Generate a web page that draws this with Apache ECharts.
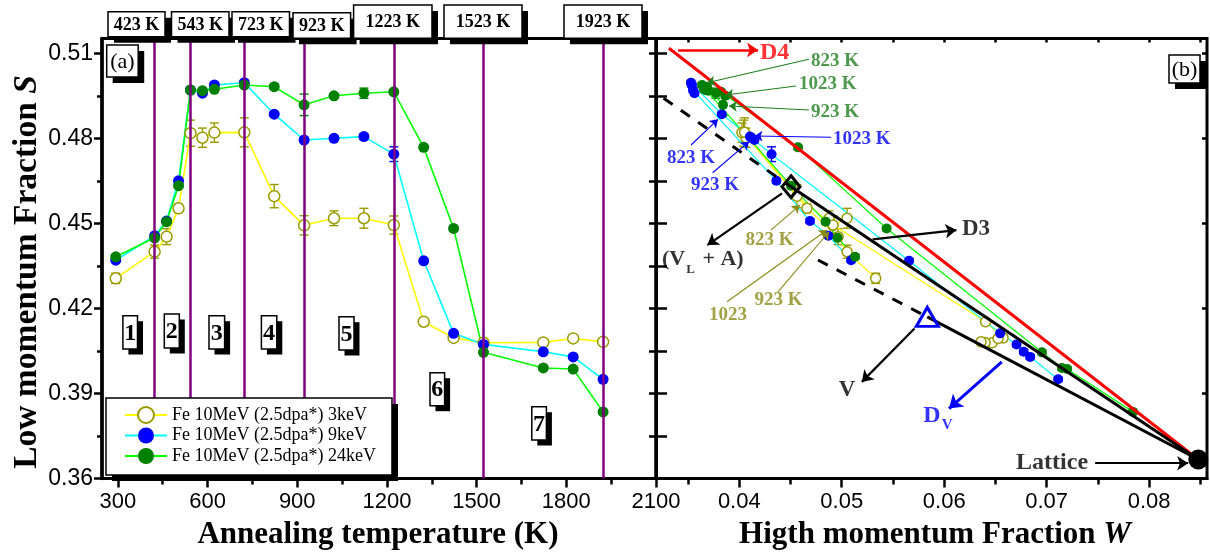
<!DOCTYPE html>
<html><head><meta charset="utf-8">
<script src="https://cdn.jsdelivr.net/npm/echarts@6/dist/echarts.min.js"></script>
<style>html,body{margin:0;padding:0;background:#fff}#c{width:1210px;height:554px}</style>
</head><body><div id="c"></div>
<script>
// ---------------- DATA ----------------
const temps = [293, 423, 463, 503, 543, 583, 623, 723, 823, 923, 1023, 1123, 1223, 1323, 1423, 1523, 1723, 1823, 1923];
const S3keV  = [0.4306, 0.4400, 0.4453, 0.4553, 0.4818, 0.4802, 0.4820, 0.4821, 0.4596, 0.4493, 0.4518, 0.4518, 0.4494, 0.4153, 0.4096, 0.4079, 0.4080, 0.4094, 0.4082];
const S9keV  = [0.4370, 0.4456, 0.4508, 0.4650, 0.4970, 0.4959, 0.4988, 0.4996, 0.4885, 0.4794, 0.4800, 0.4806, 0.4744, 0.4368, 0.4112, 0.4073, 0.4047, 0.4029, 0.3950];
const S24keV = [0.4382, 0.4449, 0.4506, 0.4633, 0.4970, 0.4968, 0.4973, 0.4988, 0.4982, 0.4918, 0.4950, 0.4959, 0.4964, 0.4768, 0.4482, 0.4045, 0.3990, 0.3986, 0.3835];
const E3keV  = [0.0018, 0.0023, 0.0028, 0.0015, 0.0046, 0.0034, 0.0034, 0.0051, 0.0041, 0.0034, 0.0026, 0.0035, 0.0032, 0.0010, 0.0010, 0.0010, 0.0010, 0.0010, 0.0012];
const E9keV  = [0.0008, 0.0008, 0.0008, 0.0008, 0.0008, 0.0008, 0.0008, 0.0008, 0.0008, 0.0008, 0.0008, 0.0010, 0.0026, 0.0008, 0.0008, 0.0008, 0.0008, 0.0008, 0.0008];
const E24keV = [0.0008, 0.0008, 0.0008, 0.0008, 0.0008, 0.0008, 0.0008, 0.0008, 0.0008, 0.0038, 0.0008, 0.0018, 0.0008, 0.0008, 0.0008, 0.0008, 0.0008, 0.0008, 0.0008];
const W3keV  = [0.05331, 0.05052, 0.04964, 0.04661, 0.04042, 0.04065, 0.04026, 0.04051, 0.04563, 0.04912, 0.04876, 0.05052, 0.04915, 0.06404, 0.06575, 0.06468, 0.06399, 0.06526, 0.06360];
const W9keV  = [0.05091, 0.04870, 0.04690, 0.04362, 0.03548, 0.03563, 0.03538, 0.03528, 0.03829, 0.04148, 0.04124, 0.04104, 0.04315, 0.05657, 0.06546, 0.06706, 0.06776, 0.06839, 0.07112];
const W24keV = [0.05130, 0.04959, 0.04842, 0.04505, 0.03675, 0.03695, 0.03655, 0.03636, 0.03685, 0.03841, 0.03865, 0.03772, 0.03821, 0.04573, 0.05438, 0.06954, 0.07149, 0.07200, 0.07842];
const seriesNames = ['Fe 10MeV (2.5dpa*) 3keV', 'Fe 10MeV (2.5dpa*) 9keV', 'Fe 10MeV (2.5dpa*) 24keV'];
const stageTemps = [423, 543, 723, 923, 1223, 1523, 1923];
const stageLabels = ['423 K', '543 K', '723 K', '923 K', '1223 K', '1523 K', '1923 K'];
const regionLabels = ['1', '2', '3', '4', '5', '6', '7'];
const tempTicks = [300, 600, 900, 1200, 1500, 1800, 2100];
const tempMinorTicks = [450, 750, 1050, 1350, 1650, 1950];
const sTicks = [0.36, 0.39, 0.42, 0.45, 0.48, 0.51];
const sMinorTicks = [0.375, 0.405, 0.435, 0.465, 0.495];
const wTicks = [0.04, 0.05, 0.06, 0.07, 0.08];
const wMinorTicks = [0.035, 0.045, 0.055, 0.065, 0.075, 0.085];
// reference points in the S-W plane
const latticePt = [0.0848, 0.3667];
const vlaPt = [0.04505, 0.4629];
const vacancyPt = [0.05835, 0.4170];
const d4Start = [0.03314, 0.51176];
const dashEndVLA = [0.03261, 0.49412];
const dashEndV = [0.04768, 0.43707];
// annotation arrows [from, to]
const greenArrows = [[[0.04680, 0.50788], [0.03685, 0.49962]], [[0.04553, 0.49846], [0.03865, 0.49528]], [[0.04680, 0.49000], [0.03899, 0.49140]]];
const greenNotes = [['823 K', [0.04700, 0.50739]], ['1023 K', [0.04583, 0.49906]], ['923 K', [0.04700, 0.48939]]];
const blueArrows = [[[0.04895, 0.48035], [0.04148, 0.48081]], [[0.03529, 0.47763], [0.03792, 0.48670]], [[0.03740, 0.46786], [0.04095, 0.47880]]];
const blueNotes = [['1023 K', [0.04915, 0.47964]], ['823 K', [0.03294, 0.47294]], ['923 K', [0.03529, 0.46351]]];
const oliveArrows = [[[0.04309, 0.44763], [0.04592, 0.45645]], [[0.03880, 0.42232], [0.04856, 0.44763]], [[0.04378, 0.42585], [0.04876, 0.44703]]];
const oliveNotes = [['823 K', [0.04061, 0.44410]], ['1023', [0.03704, 0.41763]], ['923 K', [0.04148, 0.42292]]];
const blackArrows = [[[0.05302, 0.44434], [0.06119, 0.44763]], [[0.04417, 0.46058], [0.03688, 0.44233]], [[0.05710, 0.41293], [0.05196, 0.39408]], [[0.07473, 0.36538], [0.08381, 0.36538]]];
const redArrow = [[[0.03402, 0.51116], [0.04183, 0.51116]]];
const blueThickArrow = [[[0.06562, 0.40114], [0.06047, 0.38469]]];

// ---------------- STYLE ----------------
const SERIF = '"Liberation Serif","Times New Roman",serif';
const SANS = '"Liberation Sans",Arial,sans-serif';
const OLIVE = '#9a9a00', OLIVE_T = '#8a8a14', BLUE = '#0000ff', GREEN = '#008000', GREEN_T = '#1f801f';
const S_MIN = 0.36, S_MAX = 0.5152, T_MIN = 247, T_MAX = 2100, W_MIN = 0.03187, W_MAX = 0.08565;

const chart = echarts.init(document.getElementById('c'));

function errRender(color) {
  return function (params, api) {
    const x = api.value(0), y = api.value(1), e = api.value(2);
    const a = api.coord([x, y + e]), b = api.coord([x, y - e]);
    const w = 4.5, st = { stroke: color, lineWidth: 1.4 };
    return { type: 'group', children: [
      { type: 'line', shape: { x1: a[0], y1: a[1], x2: b[0], y2: b[1] }, style: st },
      { type: 'line', shape: { x1: a[0] - w, y1: a[1], x2: a[0] + w, y2: a[1] }, style: st },
      { type: 'line', shape: { x1: b[0] - w, y1: b[1], x2: b[0] + w, y2: b[1] }, style: st }
    ]};
  };
}
const looks = [
  { item: { color: '#fff', borderColor: OLIVE, borderWidth: 1.5 }, line: '#ffff00', err: OLIVE },
  { item: { color: BLUE }, line: '#00ffff', err: BLUE },
  { item: { color: GREEN }, line: '#00ff00', err: GREEN }
];
const Sarr = [S3keV, S9keV, S24keV], Warr = [W3keV, W9keV, W24keV], Earr = [E3keV, E9keV, E24keV];

const series = [];
for (let k = 0; k < 3; k++) {
  series.push({ type: 'custom', name: 'errL' + k, xAxisIndex: 0, yAxisIndex: 0, z: 1, silent: true,
    renderItem: errRender(looks[k].err), encode: { x: 0, y: 1 },
    data: temps.map((t, i) => [t, Sarr[k][i], Earr[k][i]]) });
  series.push({ type: 'custom', name: 'errR' + k, xAxisIndex: 2, yAxisIndex: 3, z: 1, silent: true,
    renderItem: errRender(looks[k].err), encode: { x: 0, y: 1 },
    data: Warr[k].map((w, i) => [w, Sarr[k][i], Earr[k][i]]) });
}
for (let k = 0; k < 3; k++) {
  series.push({ type: 'line', name: seriesNames[k], xAxisIndex: 0, yAxisIndex: 0, z: 2, silent: true,
    symbol: 'circle', symbolSize: 11, showAllSymbol: true, itemStyle: looks[k].item,
    lineStyle: { color: looks[k].line, width: 1.6 },
    data: temps.map((t, i) => [t, Sarr[k][i]]) });
}
for (let k = 0; k < 3; k++) {
  series.push({ type: 'line', name: seriesNames[k], xAxisIndex: 2, yAxisIndex: 3, z: 2, silent: true,
    symbol: 'circle', symbolSize: 10, showAllSymbol: true, itemStyle: looks[k].item,
    lineStyle: { color: looks[k].line, width: 1.2 },
    data: Warr[k].map((w, i) => [w, Sarr[k][i]]) });
}
series.push({ type: 'line', name: 'stages', xAxisIndex: 0, yAxisIndex: 0, data: [], z: 5, silent: true,
  markLine: { silent: true, symbol: 'none', animation: false, label: { show: false },
    lineStyle: { color: '#800080', width: 2.5, type: 'solid' },
    data: stageTemps.map(t => ({ xAxis: t })) } });
function seg(name, pts, color, width, type, z) {
  return { type: 'line', name, xAxisIndex: 2, yAxisIndex: 3, symbol: 'none', z: z || 3, silent: true,
    lineStyle: { color, width, type: type || 'solid' }, data: pts };
}
series.push(seg('D4', [d4Start, latticePt], '#ff0000', 3));
series.push(seg('D3', [vlaPt, latticePt], '#000', 3));
series.push(seg('DV', [vacancyPt, latticePt], '#000', 3));
series.push(seg('dash1', [dashEndVLA, vlaPt], '#000', 3, [11, 10]));
series.push(seg('dash2', [dashEndV, vacancyPt], '#000', 3, [11, 10]));
function pt(name, p, symbol, size, style) {
  return { type: 'scatter', name, xAxisIndex: 2, yAxisIndex: 3, z: 4, silent: true, symbol, symbolSize: size,
    itemStyle: Object.assign({ opacity: 1 }, style), data: [p] };
}
series.push(pt('lattice', latticePt, 'circle', 20, { color: '#000' }));
series.push(pt('vla', vlaPt, 'diamond', [18, 22], { color: 'rgba(0,0,0,0)', borderColor: '#000', borderWidth: 3 }));
series.push(pt('vac', vacancyPt, 'triangle', [22, 19], { color: 'rgba(0,0,0,0)', borderColor: BLUE, borderWidth: 3 }));
function arrows(name, list, color, width, size) {
  return { type: 'line', name, xAxisIndex: 2, yAxisIndex: 3, data: [], z: 5, silent: true,
    markLine: { silent: true, animation: false, symbol: ['none', 'arrow'], symbolSize: size, label: { show: false },
      lineStyle: { color, width, type: 'solid' },
      data: list.map(a => [{ coord: a[0] }, { coord: a[1] }]) } };
}
series.push(arrows('ga', greenArrows, GREEN_T, 1.1, 8));
series.push(arrows('ba', blueArrows, BLUE, 1.1, 8));
series.push(arrows('oa', oliveArrows, OLIVE_T, 1.1, 8));
series.push(arrows('ka', blackArrows, '#000', 2.2, 11));
series.push(arrows('ra', redArrow, '#ff0000', 2.5, 11));
series.push(arrows('bta', blueThickArrow, BLUE, 3, 13));
function notes(name, list, color, size, pos) {
  return { type: 'scatter', name, xAxisIndex: 2, yAxisIndex: 3, z: 6, silent: true, symbolSize: 0,
    label: { show: true, position: pos || 'right', distance: 0, formatter: '{b}', color,
      fontFamily: SERIF, fontWeight: 'bold', fontSize: size },
    data: list.map(n => ({ name: n[0], value: n[1] })) };
}
series.push(notes('gn', greenNotes, GREEN_T, 19));
series.push(notes('bn', blueNotes, BLUE, 19));
series.push(notes('on', oliveNotes, OLIVE_T, 19));
series.push(notes('d4', [['D4', [0.04202, 0.51028]]], '#ff0000', 24));
series.push(notes('d3', [['D3', [0.06173, 0.44798]]], '#000', 23));
series.push(notes('v', [['V', [0.05051, 0.39109]]], '#000', 23, 'inside'));
series.push(notes('lat', [['Lattice', [0.07404, 0.36538]]], '#000', 24, 'left'));
series.push({ type: 'scatter', name: 'vlaT', xAxisIndex: 2, yAxisIndex: 3, z: 6, silent: true, symbolSize: 0,
  label: { show: true, position: 'right', distance: 0, formatter: '{m|(V}{s|L}{m| + A)}',
    rich: { m: { fontFamily: SERIF, fontWeight: 'bold', fontSize: 22, color: '#000', verticalAlign: 'top', lineHeight: 24 },
            s: { fontFamily: SERIF, fontWeight: 'bold', fontSize: 13, color: '#000', verticalAlign: 'top', padding: [15, 2, 0, 1] } } },
  data: [{ name: 'VLA', value: [0.03246, 0.43633] }] });
series.push({ type: 'scatter', name: 'dvT', xAxisIndex: 2, yAxisIndex: 3, z: 6, silent: true, symbolSize: 0,
  label: { show: true, position: 'inside', formatter: '{m|D}{s|V}',
    rich: { m: { fontFamily: SERIF, fontWeight: 'bold', fontSize: 24, color: BLUE, verticalAlign: 'top', lineHeight: 26 },
            s: { fontFamily: SERIF, fontWeight: 'bold', fontSize: 15, color: BLUE, verticalAlign: 'top', padding: [14, 0, 0, 1] } } },
  data: [{ name: 'DV', value: [0.05939, 0.38127] }] });

// ---------------- AXES ----------------
const tk = (len, inside, vals) => ({ show: true, inside: !!inside, length: len, customValues: vals, lineStyle: { color: '#000', width: 2.5 } });
const noLab = { show: false };
const sAll = sTicks.concat(sMinorTicks).sort((a, b) => a - b);
const wAll = wTicks.concat(wMinorTicks).sort((a, b) => a - b);
const xAxes = [
  { gridIndex: 0, type: 'value', min: T_MIN, max: T_MAX, position: 'bottom', splitLine: { show: false },
    axisLine: { show: true, onZero: false, lineStyle: { color: '#000', width: 3 } }, axisTick: tk(9, false, tempTicks),
    axisLabel: { customValues: tempTicks, fontFamily: SANS, fontSize: 22, color: '#000', margin: 12, formatter: v => String(Math.round(v)) } },
  { gridIndex: 0, type: 'value', min: T_MIN, max: T_MAX, position: 'bottom', splitLine: { show: false },
    axisLine: { show: false, onZero: false }, axisTick: tk(6, false, tempMinorTicks), axisLabel: noLab },
  { gridIndex: 1, type: 'value', min: W_MIN, max: W_MAX, position: 'bottom', splitLine: { show: false },
    axisLine: { show: true, onZero: false, lineStyle: { color: '#000', width: 3 } }, axisTick: tk(9, false, wTicks),
    axisLabel: { customValues: wTicks, fontFamily: SANS, fontSize: 22, color: '#000', margin: 12, formatter: v => v.toFixed(2) } },
  { gridIndex: 1, type: 'value', min: W_MIN, max: W_MAX, position: 'bottom', splitLine: { show: false },
    axisLine: { show: false, onZero: false }, axisTick: tk(6, false, wMinorTicks), axisLabel: noLab },
  { gridIndex: 1, type: 'value', min: W_MIN, max: W_MAX, position: 'top', splitLine: { show: false },
    axisLine: { show: false, onZero: false }, axisTick: tk(4, true, wAll), axisLabel: noLab }
];
const yAxes = [
  { gridIndex: 0, type: 'value', min: S_MIN, max: S_MAX, position: 'left', splitLine: { show: false },
    axisLine: { show: true, onZero: false, lineStyle: { color: '#000', width: 3.5 } }, axisTick: tk(8, false, sTicks),
    axisLabel: { customValues: sTicks, fontFamily: SANS, fontSize: 23, color: '#000', margin: 9, formatter: v => v.toFixed(2) } },
  { gridIndex: 0, type: 'value', min: S_MIN, max: S_MAX, position: 'left', splitLine: { show: false },
    axisLine: { show: false, onZero: false }, axisTick: tk(5, false, sMinorTicks), axisLabel: noLab },
  { gridIndex: 0, type: 'value', min: S_MIN, max: S_MAX, position: 'right', splitLine: { show: false },
    axisLine: { show: false, onZero: false }, axisTick: tk(7, true, sAll), axisLabel: noLab },
  { gridIndex: 1, type: 'value', min: S_MIN, max: S_MAX, position: 'left', splitLine: { show: false },
    axisLine: { show: true, onZero: false, lineStyle: { color: '#000', width: 3 } }, axisTick: tk(11, true, sAll), axisLabel: noLab },
  { gridIndex: 1, type: 'value', min: S_MIN, max: S_MAX, position: 'right', splitLine: { show: false },
    axisLine: { show: false, onZero: false }, axisTick: tk(5, true, sTicks), axisLabel: noLab }
];

// ---------------- ANNOTATION BOXES (layout) ----------------
const topBoxes = [[108, 11.7, 57, 25], [171.5, 11.7, 57.5, 25], [232, 11.7, 57.5, 25], [293, 12.7, 57.6, 25.6],
                  [353.6, 5, 78.4, 33.3], [444, 5, 78, 33.3], [564, 5, 78, 33.3]];
const regionBoxes = [[122.9, 315.7, 14.6, 33.3], [164.3, 314, 15, 34], [209, 315.7, 15.6, 33.3], [261.4, 315.7, 15.4, 33.3],
                     [339, 316.7, 15, 33.3], [430, 372.7, 14.6, 33], [531.8, 406.7, 14.6, 33.3]];
const legendBox = [106, 398, 286, 77];
function box(b, text, font, sh, lw, z) {
  z = z || 100;
  const kids = [
    { type: 'rect', z: z, silent: true, shape: { x: b[0] + sh, y: b[1] + sh, width: b[2], height: b[3] }, style: { fill: '#000' } },
    { type: 'rect', z: z + 1, silent: true, shape: { x: b[0], y: b[1], width: b[2], height: b[3] },
      style: { fill: '#fff', stroke: '#000', lineWidth: lw || 1.5 } }
  ];
  if (text) kids.push({ type: 'text', z: z + 2, silent: true, x: b[0] + b[2] / 2, y: b[1] + b[3] / 2 + 1,
      style: { text, font, fill: '#000', align: 'center', verticalAlign: 'middle' } });
  return kids;
}
let graphics = [];
topBoxes.forEach((b, i) => { graphics = graphics.concat(box(b, stageLabels[i], 'bold 18px ' + SERIF, 6)); });
regionBoxes.forEach((b, i) => { graphics = graphics.concat(box(b, regionLabels[i], 'bold 24px ' + SERIF, 5.5)); });
graphics = graphics.concat(box([106.7, 45, 31.5, 32], '(a)', '22px ' + SERIF, 6));
graphics = graphics.concat(box([1169, 55, 31, 28], '(b)', '22px ' + SERIF, 6));
graphics = graphics.concat(box(legendBox, null, null, 6, 1.5, 10));
graphics.push({ type: 'text', z: 100, silent: true, x: 27, y: 272, rotation: Math.PI / 2,
  style: { text: '{b|Low momentum Fraction }{i|S}', align: 'center', verticalAlign: 'middle',
    rich: { b: { font: 'bold 33.5px ' + SERIF, fill: '#000' }, i: { font: 'italic bold 33.5px ' + SERIF, fill: '#000' } } } });
graphics.push({ type: 'text', z: 100, silent: true, x: 378, y: 535,
  style: { text: 'Annealing temperature (K)', font: 'bold 31px ' + SERIF, fill: '#000', align: 'center', verticalAlign: 'middle' } });
graphics.push({ type: 'text', z: 100, silent: true, x: 935, y: 535,
  style: { text: '{b|Higth momentum Fraction }{i|W}', align: 'center', verticalAlign: 'middle',
    rich: { b: { font: 'bold 31px ' + SERIF, fill: '#000' }, i: { font: 'italic bold 31px ' + SERIF, fill: '#000' } } } });

chart.setOption({
  animation: false,
  backgroundColor: '#fff',
  grid: [
    { left: 102, top: 38.5, width: 554, height: 440, show: true, borderColor: '#000', borderWidth: 3, backgroundColor: 'transparent' },
    { left: 656, top: 38.5, width: 551, height: 440, show: true, borderColor: '#000', borderWidth: 3, backgroundColor: 'transparent' }
  ],
  legend: {
    data: seriesNames, orient: 'vertical', left: 124, top: 406, itemWidth: 42, itemHeight: 20, itemGap: 2.5,
    padding: 0, selectedMode: false, z: 20,
    textStyle: { fontFamily: SERIF, fontSize: 18, color: '#000' }
  },
  xAxis: xAxes,
  yAxis: yAxes,
  series,
  graphic: { elements: graphics }
});
</script></body></html>
